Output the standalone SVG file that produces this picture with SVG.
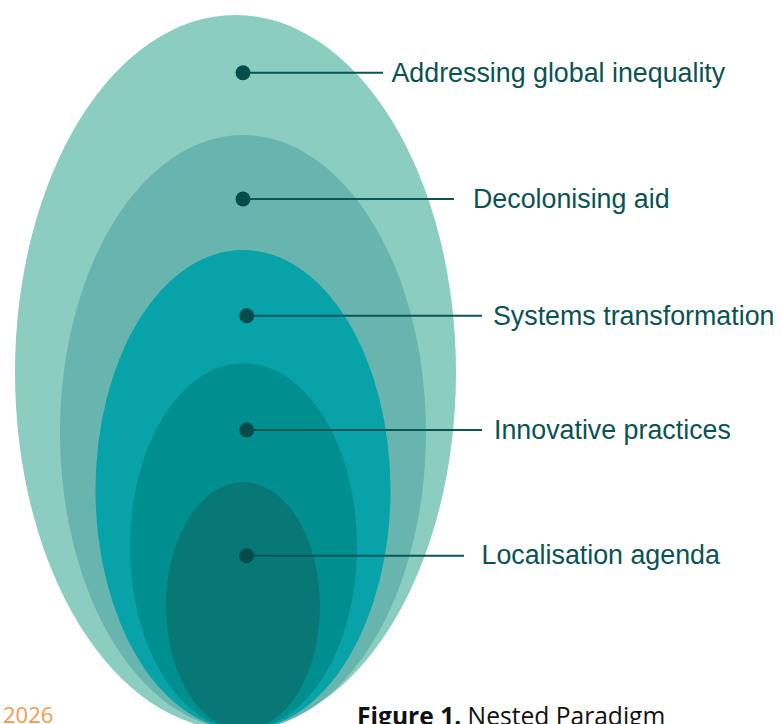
<svg xmlns="http://www.w3.org/2000/svg" width="781" height="724" viewBox="0 0 781 724">
  <style>
    .lbl { font-family: "Liberation Sans", Arial, sans-serif; font-size: 26.8px; fill: #0b5252; }
    .dot { fill: #024c4c; }
    .conn { stroke: #0a5656; stroke-width: 2; fill: none; }
    .cap { font-family: "Open Sans", "Liberation Sans", sans-serif; font-size: 24.6px; fill: #111111; }
    .year { font-family: "Open Sans", "Liberation Sans", sans-serif; font-size: 22px; fill: #f29a52; }
  </style>
  <rect width="781" height="724" fill="#ffffff"/>
  <g id="node-global-inequality">
    <ellipse cx="235.5" cy="372.5" rx="220.5" ry="357.5" fill="#8bcdc0"/>
  </g>
  <g id="node-decolonising-aid">
    <ellipse cx="243" cy="432.5" rx="183" ry="297.5" fill="#68b5b0"/>
  </g>
  <g id="node-systems-transformation">
    <ellipse cx="243" cy="490" rx="147.5" ry="240" fill="#07a3a8"/>
  </g>
  <g id="node-innovative-practices">
    <ellipse cx="243.5" cy="546.5" rx="113.5" ry="183.5" fill="#008f8e"/>
  </g>
  <g id="node-localisation-agenda">
    <ellipse cx="243" cy="606" rx="77" ry="124" fill="#087877"/>
  </g>
  <g id="connectors">
    <line class="conn" x1="243" y1="72.7" x2="383" y2="72.7"/>
    <line class="conn" x1="243" y1="199" x2="454" y2="199"/>
    <line class="conn" x1="246.7" y1="315.7" x2="482" y2="315.7"/>
    <line class="conn" x1="246.7" y1="430" x2="482" y2="430"/>
    <line class="conn" x1="246.7" y1="555.7" x2="464" y2="555.7"/>
    <circle class="dot" cx="243" cy="72.7" r="7.5"/>
    <circle class="dot" cx="243" cy="199" r="7.5"/>
    <circle class="dot" cx="246.7" cy="315.7" r="7.5"/>
    <circle class="dot" cx="246.7" cy="430" r="7.5"/>
    <circle class="dot" cx="246.7" cy="555.7" r="7.5"/>
  </g>
  <g id="labels">
    <text class="lbl" x="391.5" y="82">Addressing global inequality</text>
    <text class="lbl" x="473" y="208">Decolonising aid</text>
    <text class="lbl" x="493" y="325">Systems transformation</text>
    <text class="lbl" x="494" y="439">Innovative practices</text>
    <text class="lbl" x="481.5" y="564">Localisation agenda</text>
  </g>
  <text class="year" x="3" y="723">2026</text>
  <text class="cap" x="357" y="725"><tspan font-weight="bold">Figure 1.</tspan> Nested Paradigm</text>
</svg>
